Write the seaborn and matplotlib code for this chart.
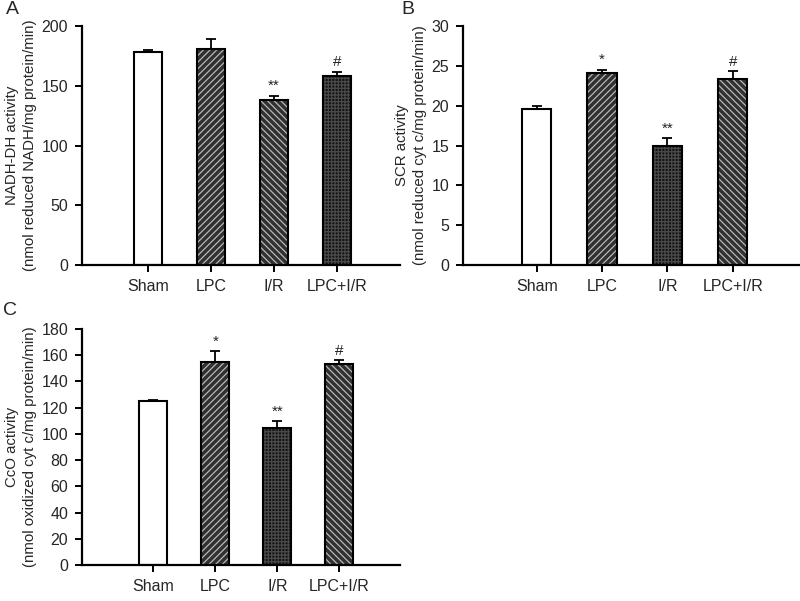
import numpy as np
import pandas as pd
import seaborn as sns
import matplotlib
matplotlib.use("Agg")
from matplotlib import pyplot as plt

groups = ["Sham", "LPC", "I/R", "LPC+I/R"]

nadh_mean = [178, 181, 138, 158]
nadh_sem = [2, 8, 3.5, 3.5]
nadh_marks = ["", "", "**", "#"]

scr_mean = [19.6, 24.1, 14.9, 23.3]
scr_sem = [0.35, 0.4, 1.0, 1.0]
scr_marks = ["", "*", "**", "#"]

cco_mean = [125, 155, 104.5, 153]
cco_sem = [0.6, 8, 5, 3]
cco_marks = ["", "*", "**", "#"]

sns.set_theme(style="ticks")
plt.rcParams["font.family"] = ["Liberation Sans", "DejaVu Sans"]
plt.rcParams["hatch.linewidth"] = 0.9

# fill styles: (face, hatch colour, hatch)
WHITE = ("white", "white", "")
FWD = ("#303030", "#b8b8b8", "/////")
BACK = ("#303030", "#b8b8b8", "\\\\\\\\\\")
DARK = ("#141414", "#4a4a4a", "+++++")

fig = plt.figure(figsize=(8, 6.01), dpi=100)


def panel(rect, mean, sem, marks, styles, ylim, step, xlim, ylabel, letter, letter_xy):
    ax = fig.add_axes(rect)
    df = pd.DataFrame({"group": groups, "value": mean})
    sns.barplot(data=df, x="group", y="value", color="white", width=0.45,
                errorbar=None, ax=ax)
    for p, (fc, hc, h) in zip(ax.patches, styles):
        p.set_facecolor(fc)
        p.set_edgecolor(hc)
        p.set_hatch(h)
        p.set_linewidth(0)
        ax.add_patch(plt.Rectangle(p.get_xy(), p.get_width(), p.get_height(),
                                   fill=False, ec="black", lw=1.5, zorder=3))
    x = np.arange(len(groups))
    ax.errorbar(x, mean, yerr=[np.zeros(len(sem)), sem], fmt="none",
                ecolor="black", elinewidth=1.3, capsize=3.5, capthick=1.3, zorder=4)
    for xi, m, s, t in zip(x, mean, sem, marks):
        if t:
            ax.annotate(t, (xi, m + s), xytext=(0, 2), textcoords="offset points",
                        ha="center", va="bottom", fontsize=11, color="#222222")
    ax.set_ylim(*ylim)
    ax.set_yticks(np.arange(ylim[0], ylim[1] + step / 2, step))
    ax.set_xlim(*xlim)
    ax.set_xlabel("")
    ax.set_ylabel(ylabel, fontsize=10.8, labelpad=3, linespacing=1.4)
    sns.despine(ax=ax)
    for s in ("left", "bottom"):
        ax.spines[s].set_linewidth(1.6)
        ax.spines[s].set_color("black")
    ax.tick_params(axis="both", length=5, width=1.4, color="black",
                   labelsize=11.5, pad=5)
    fig.text(letter_xy[0], letter_xy[1], letter, fontsize=14, ha="left", va="top")
    return ax


panel([82 / 800, 1 - 265 / 601, 318 / 800, 239 / 601], nadh_mean, nadh_sem, nadh_marks,
      [WHITE, FWD, BACK, DARK], (0, 200), 50, (-1.05, 4.0),
      "NADH-DH activity\n(nmol reduced NADH/mg protein/min)", "A", (6 / 800, 1 - 1 / 601))

panel([463 / 800, 1 - 265 / 601, 337 / 800, 239 / 601], scr_mean, scr_sem, scr_marks,
      [WHITE, FWD, DARK, BACK], (0, 30), 5, (-1.13, 4.03),
      "SCR activity\n(nmol reduced cyt c/mg protein/min)", "B", (401 / 800, 1 - 1 / 601))

panel([82 / 800, 1 - 565 / 601, 318 / 800, 236 / 601], cco_mean, cco_sem, cco_marks,
      [WHITE, FWD, DARK, BACK], (0, 180), 20, (-1.15, 3.98),
      "CcO activity\n(nmol oxidized cyt c/mg protein/min)", "C", (3 / 800, 1 - 302 / 601))

fig.savefig("out.png", dpi=100)
